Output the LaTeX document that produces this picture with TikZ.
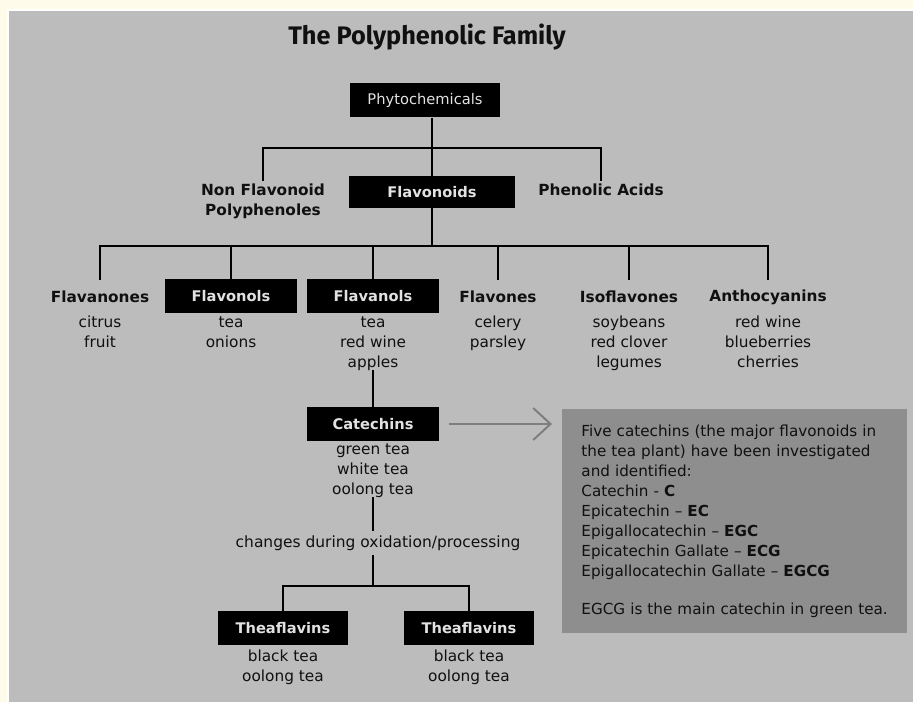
\documentclass[tikz,border=0pt]{standalone}
\usepackage{fontspec}
\setmainfont{DejaVu Sans}
\newfontfamily\titlefont{Fira Sans}
\usetikzlibrary{arrows.meta}
\definecolor{cream}{HTML}{FFFBEA}
\definecolor{panel}{HTML}{BCBCBC}
\definecolor{infobg}{HTML}{8E8E8E}
\definecolor{boxtext}{HTML}{E2E2E2}
\definecolor{ink}{HTML}{101010}
\definecolor{arrowgrey}{HTML}{7E7E7E}
\begin{document}
\begin{tikzpicture}[x=0.75pt,y=-0.75pt,
  blackbox/.style={fill=black,text=boxtext,inner sep=0pt,minimum width=99pt,minimum height=25.5pt,font=\fontsize{11}{13}\selectfont\bfseries},
  lbl/.style={text=ink,inner sep=2pt,font=\fontsize{11.5}{15}\selectfont\bfseries,align=center},
  lvl/.style={lbl,minimum height=25.5pt},
  sub/.style={text=ink,inner sep=0pt,anchor=north,align=center,font=\fontsize{11.5}{15}\selectfont},
  conn/.style={draw=black,line width=1.8pt},
  infobox/.style={fill=infobg,text=ink,anchor=north west,align=left,minimum width=258.75pt,minimum height=168pt,text width=230pt,inner xsep=14pt,font=\fontsize{11.4}{15}\selectfont}
]
\useasboundingbox (0,0) rectangle (913,702);
\fill[cream] (0,0) rectangle (913,702);
\path[fill=panel,draw=white,line width=1pt] (8,10) rectangle (918,708);

\node[text=ink,font=\titlefont\bfseries\fontsize{19}{23}\selectfont] (title) at (427,37) {The Polyphenolic Family};

\node[blackbox,minimum width=113pt,minimum height=26pt,font=\fontsize{11}{13}\selectfont] (phyto) at (425,100) {Phytochemicals};
\coordinate (jn1) at (432,148);
\node[lbl] (nonflav) at (263,201) {Non Flavonoid\\Polyphenoles};
\node[blackbox,minimum width=124pt,minimum height=24pt] (flavonoids) at (432,192) {Flavonoids};
\node[lbl] (phenolic) at (601,190) {Phenolic Acids};

\draw[conn] (phyto.south -| jn1) -- (jn1);
\draw[conn] (nonflav.north) |- (jn1) -| (phenolic.north);
\draw[conn] (jn1) -- (flavonoids.north);

\coordinate (jn2) at (432,246);
\node[lvl] (flavanones) at (100,297) {Flavanones};
\node[blackbox] (flavonols) at (231,296) {Flavonols};
\node[blackbox] (flavanols) at (373,296) {Flavanols};
\node[lvl] (flavones) at (498,297) {Flavones};
\node[lvl] (isoflavones) at (629,297) {Isoflavones};
\node[lvl] (antho) at (768,297) {Anthocyanins};

\draw[conn] (flavonoids.south) -- (jn2);
\draw[conn] (flavanones.north) |- (jn2) -| (antho.north);
\draw[conn] (jn2 -| flavonols) -- (flavonols.north);
\draw[conn] (jn2 -| flavanols) -- (flavanols.north);
\draw[conn] (jn2 -| flavones) -- (flavones.north);
\draw[conn] (jn2 -| isoflavones) -- (isoflavones.north);

\node[sub] (flavanonesSub) at (100,316) {citrus\\fruit};
\node[sub] (flavonolsSub) at (231,316) {tea\\onions};
\node[sub] (flavanolsSub) at (373,316) {tea\\red wine\\apples};
\node[sub] (flavonesSub) at (498,316) {celery\\parsley};
\node[sub] (isoflavonesSub) at (629,316) {soybeans\\red clover\\legumes};
\node[sub] (anthoSub) at (768,316) {red wine\\blueberries\\cherries};

\node[blackbox] (catechins) at (373,424) {Catechins};
\draw[conn] (flavanolsSub.south) -- (catechins.north);
\node[sub] (catechinsSub) at (373,443) {green tea\\white tea\\oolong tea};

\node[text=ink,inner sep=3pt,font=\fontsize{11.6}{14}\selectfont] (change) at (378,543) {changes during oxidation/processing};
\draw[conn] (catechinsSub.south) -- (catechinsSub.south |- change.north);

\coordinate (jn3) at (373,586);
\node[blackbox,minimum width=98pt] (thea1) at (283,628) {Theaflavins};
\node[blackbox,minimum width=98pt] (thea2) at (469,628) {Theaflavins};
\draw[conn] (catechinsSub.south |- change.south) -- (jn3);
\draw[conn] (thea1.north) |- (jn3) -| (thea2.north);
\node[sub] (thea1Sub) at (283,650) {black tea\\oolong tea};
\node[sub] (thea2Sub) at (469,650) {black tea\\oolong tea};

\node[infobox] (info) at (562,409) {Five catechins (the major flavonoids in\\
the tea plant) have been investigated\\
and identified:\\
Catechin - \textbf{C}\\
Epicatechin -- \textbf{EC}\\
Epigallocatechin -- \textbf{EGC}\\
Epicatechin Gallate -- \textbf{ECG}\\
Epigallocatechin Gallate -- \textbf{EGCG}\\[13pt]
EGCG is the main catechin in green tea.};

\draw[arrowgrey,line width=1.5pt,shorten <=7pt,shorten >=7.5pt,-{Straight Barb[length=13pt,width=24pt]}] (catechins.east) -- (catechins.east -| info.west);
\end{tikzpicture}
\end{document}
